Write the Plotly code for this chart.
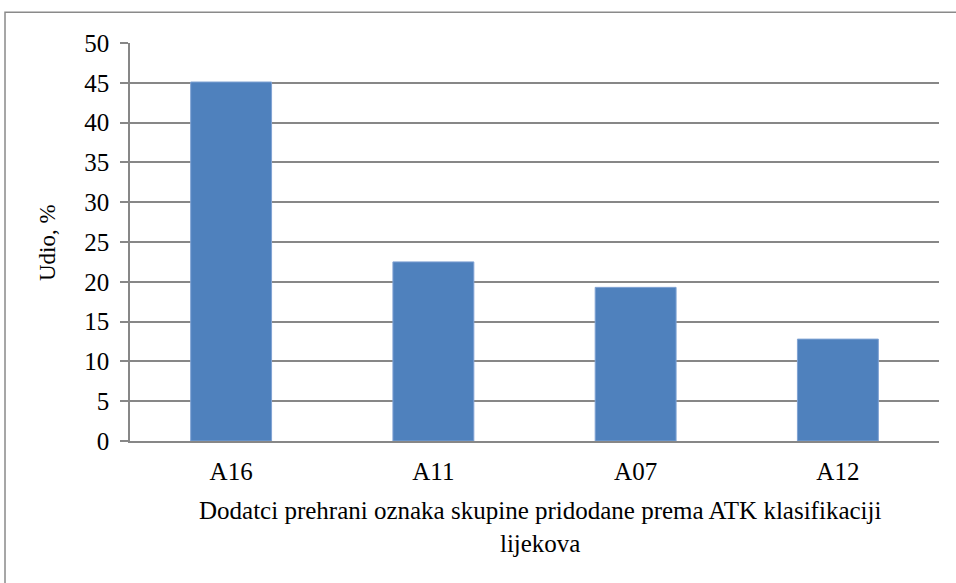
import plotly.graph_objects as go

categories = ["A16", "A11", "A07", "A12"]
values = [45.1, 22.5, 19.3, 12.8]
y_ticks = [0, 5, 10, 15, 20, 25, 30, 35, 40, 45, 50]
x_title = "Dodatci prehrani oznaka skupine pridodane prema ATK klasifikaciji<br>lijekova"
y_title = "Udio, %"

FONT = "Liberation Serif, Times New Roman, serif"
GRID = "#878787"
FS = 25

fig = go.Figure()
fig.add_trace(go.Bar(
    x=categories, y=values,
    marker=dict(color="#4F81BD", line=dict(color="#7FA2D3", width=1)),
    width=0.4,
))

fig.update_layout(
    width=956, height=583,
    margin=dict(l=130, r=17, t=43, b=142, autoexpand=False),
    paper_bgcolor="white", plot_bgcolor="white",
    showlegend=False,
    font=dict(family=FONT, size=FS, color="black"),
    xaxis=dict(
        showgrid=False, showline=True, linecolor=GRID, linewidth=1.5,
        ticks="", tickfont=dict(size=FS), automargin=False,
        ticklabelstandoff=7,
    ),
    yaxis=dict(
        range=[0, 50], tickvals=y_ticks, automargin=False,
        showgrid=True, gridcolor=GRID, gridwidth=1.5,
        showline=True, linecolor=GRID, linewidth=1.5,
        ticks="outside", ticklen=8, tickcolor=GRID, tickwidth=1.5,
        tickfont=dict(size=FS), ticklabelstandoff=6,
        zeroline=False,
    ),
    annotations=[
        dict(text=x_title, xref="paper", yref="paper", x=0.5068, y=-0.216,
             xanchor="center", yanchor="middle", showarrow=False,
             font=dict(size=FS, family=FONT, color="black")),
        dict(text=y_title, xref="paper", yref="paper", x=-0.1026, y=0.5,
             xanchor="center", yanchor="middle", showarrow=False, textangle=-90,
             font=dict(size=23, family=FONT, color="black")),
    ],
    shapes=[dict(
        type="rect", xref="paper", yref="paper",
        x0=-0.1545, x1=1.03, y0=-0.4, y1=1.077,
        line=dict(color="#8a8a8a", width=1.5), fillcolor="rgba(0,0,0,0)",
        layer="below",
    )],
)

fig.write_html("out.html", config={"displayModeBar": False},
               post_script="document.body.style.margin='0';")
